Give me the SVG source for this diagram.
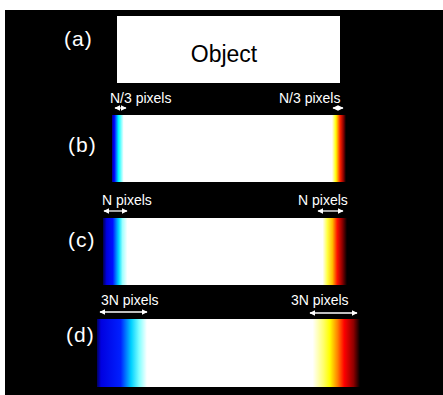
<svg xmlns="http://www.w3.org/2000/svg" width="443" height="395" viewBox="0 0 443 395">
<style>
.lbl{font-family:"Liberation Sans",Arial,sans-serif;fill:#fff;}
.px{font-size:14px;}
.tag{font-size:21px;letter-spacing:1px;}
.arr{stroke:#fff;stroke-width:1.3;fill:none;marker-start:url(#ah);marker-end:url(#ah);}
</style>
<defs>
<marker id="ah" viewBox="0 0 10 10" refX="9" refY="5" markerWidth="6" markerHeight="6" orient="auto-start-reverse" markerUnits="userSpaceOnUse">
<path d="M0,0 L10,5 L0,10 Z" fill="#fff"/>
</marker>
<linearGradient id="gb" gradientUnits="userSpaceOnUse" x1="112" y1="0" x2="346" y2="0">
<stop offset="0" stop-color="#000090"/>
<stop offset="0.01" stop-color="#0000ff"/>
<stop offset="0.028" stop-color="#00ffff"/>
<stop offset="0.05" stop-color="#ffffff"/>
<stop offset="0.94" stop-color="#ffffff"/>
<stop offset="0.957" stop-color="#ffff00"/>
<stop offset="0.975" stop-color="#ff2000"/>
<stop offset="0.99" stop-color="#800000"/>
<stop offset="1" stop-color="#000000"/>
</linearGradient>
<linearGradient id="gc" gradientUnits="userSpaceOnUse" x1="103" y1="0" x2="347" y2="0">
<stop offset="0" stop-color="#000050"/>
<stop offset="0.015" stop-color="#0000e0"/>
<stop offset="0.04" stop-color="#0010ff"/>
<stop offset="0.065" stop-color="#00e0ff"/>
<stop offset="0.08" stop-color="#a0ffff"/>
<stop offset="0.1" stop-color="#ffffff"/>
<stop offset="0.9" stop-color="#ffffff"/>
<stop offset="0.92" stop-color="#ffff40"/>
<stop offset="0.94" stop-color="#ffc000"/>
<stop offset="0.96" stop-color="#ff1000"/>
<stop offset="0.98" stop-color="#900000"/>
<stop offset="1" stop-color="#000000"/>
</linearGradient>
<linearGradient id="gd" gradientUnits="userSpaceOnUse" x1="97" y1="0" x2="360" y2="0">
<stop offset="0" stop-color="#000060"/>
<stop offset="0.015" stop-color="#0000e0"/>
<stop offset="0.09" stop-color="#0020ff"/>
<stop offset="0.13" stop-color="#00d0ff"/>
<stop offset="0.16" stop-color="#80ffff"/>
<stop offset="0.19" stop-color="#ffffff"/>
<stop offset="0.82" stop-color="#ffffff"/>
<stop offset="0.86" stop-color="#ffff70"/>
<stop offset="0.885" stop-color="#ffff00"/>
<stop offset="0.915" stop-color="#ff8000"/>
<stop offset="0.94" stop-color="#ff0000"/>
<stop offset="0.975" stop-color="#900000"/>
<stop offset="1" stop-color="#000000"/>
</linearGradient>
</defs>
<rect x="0" y="0" width="443" height="395" fill="#ffffff"/>
<rect x="5" y="10" width="438" height="385" fill="#000000"/>

<g id="row-a">
<rect x="117" y="16" width="223" height="67" fill="#ffffff"/>
<text class="lbl" x="224" y="62" font-size="23" text-anchor="middle" style="fill:#000">Object</text>
<text class="lbl tag" x="64" y="46">(a)</text>
</g>

<g id="row-b">
<rect x="112" y="115" width="234" height="67" fill="url(#gb)"/>
<text class="lbl tag" x="68" y="152">(b)</text>
<text class="lbl px" x="110" y="103">N/3 pixels</text>
<text class="lbl px" x="279" y="103">N/3 pixels</text>
</g>

<g id="row-c">
<rect x="103" y="218" width="244" height="67" fill="url(#gc)"/>
<text class="lbl tag" x="68" y="247">(c)</text>
<text class="lbl px" x="102" y="205">N pixels</text>
<text class="lbl px" x="298" y="205">N pixels</text>
</g>

<g id="row-d">
<rect x="97" y="319" width="263" height="68" fill="url(#gd)"/>
<text class="lbl tag" x="66" y="342">(d)</text>
<text class="lbl px" x="101" y="305">3N pixels</text>
<text class="lbl px" x="291" y="305">3N pixels</text>
</g>

<g id="connectors">
<path class="arr" d="M115,108 H126"/>
<path class="arr" d="M333,108 H343"/>
<path class="arr" d="M104,211 H127"/>
<path class="arr" d="M318,211 H343"/>
<path class="arr" d="M100,312 H147"/>
<path class="arr" d="M310,313 H357"/>
</g>
</svg>
